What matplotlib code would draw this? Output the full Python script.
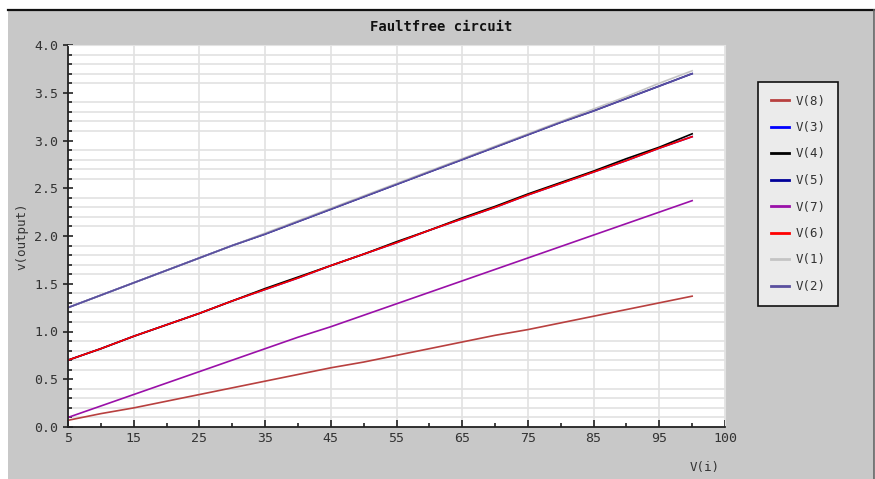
import matplotlib
matplotlib.use('Agg')
import matplotlib.pyplot as plt
from matplotlib.patches import Rectangle
from matplotlib.lines import Line2D

# input voltage sweep
v_in = [5, 10, 15, 20, 25, 30, 35, 40, 45, 50, 55, 60, 65, 70, 75, 80, 85, 90, 95, 100]

# node voltages
v8 = [0.07, 0.14, 0.20, 0.27, 0.34, 0.41, 0.48, 0.55, 0.62, 0.68,
      0.75, 0.82, 0.89, 0.96, 1.02, 1.09, 1.16, 1.23, 1.30, 1.37]
v3 = [0.70, 0.82, 0.95, 1.07, 1.19, 1.32, 1.44, 1.56, 1.69, 1.81,
      1.93, 2.06, 2.18, 2.30, 2.43, 2.55, 2.67, 2.79, 2.92, 3.04]
v4 = [0.70, 0.82, 0.95, 1.07, 1.19, 1.32, 1.45, 1.57, 1.69, 1.81,
      1.94, 2.06, 2.19, 2.31, 2.44, 2.56, 2.68, 2.81, 2.93, 3.07]
v5 = [1.25, 1.38, 1.51, 1.64, 1.77, 1.90, 2.02, 2.15, 2.28, 2.41,
      2.54, 2.67, 2.80, 2.93, 3.06, 3.19, 3.31, 3.44, 3.57, 3.70]
v7 = [0.10, 0.22, 0.34, 0.46, 0.58, 0.70, 0.82, 0.94, 1.05, 1.17,
      1.29, 1.41, 1.53, 1.65, 1.77, 1.89, 2.01, 2.13, 2.25, 2.37]
v6 = [0.70, 0.82, 0.95, 1.07, 1.19, 1.32, 1.44, 1.56, 1.69, 1.81,
      1.93, 2.06, 2.18, 2.30, 2.43, 2.55, 2.67, 2.79, 2.92, 3.04]
v1 = [1.25, 1.38, 1.51, 1.64, 1.77, 1.90, 2.03, 2.16, 2.29, 2.42,
      2.55, 2.68, 2.81, 2.94, 3.07, 3.20, 3.33, 3.46, 3.60, 3.73]
v2 = [1.25, 1.38, 1.51, 1.64, 1.77, 1.90, 2.02, 2.15, 2.28, 2.41,
      2.54, 2.67, 2.80, 2.93, 3.06, 3.19, 3.31, 3.44, 3.57, 3.70]

series = [('V(8)', v8, '#b8403f'), ('V(3)', v3, '#0000ff'), ('V(4)', v4, '#000000'),
          ('V(5)', v5, '#000099'), ('V(7)', v7, '#9a10a8'), ('V(6)', v6, '#ff0000'),
          ('V(1)', v1, '#c4c4c4'), ('V(2)', v2, '#5a4f9e')]

x_ticks = [5, 15, 25, 35, 45, 55, 65, 75, 85, 95, 105]
x_tick_labels = ['5', '15', '25', '35', '45', '55', '65', '75', '85', '95', '100']
y_ticks = [0.0, 0.5, 1.0, 1.5, 2.0, 2.5, 3.0, 3.5, 4.0]

mono = 'DejaVu Sans Mono'
text_col = '#333333'

fig = plt.figure(figsize=(8.75, 4.79), dpi=100)
fig.patch.set_facecolor('white')

# grey panel behind everything
fig.patches.append(Rectangle((8 / 875, 0), 866 / 875, 469 / 479, transform=fig.transFigure,
                             facecolor='#c8c8c8', edgecolor='none', zorder=-10))
fig.lines.append(Line2D([8 / 875, 1], [469 / 479, 469 / 479], transform=fig.transFigure,
                        color='#111111', linewidth=1.6))
fig.lines.append(Line2D([873.5 / 875, 873.5 / 875], [0, 469 / 479], transform=fig.transFigure,
                        color='#666666', linewidth=1.2))

ax = fig.add_axes([68 / 875, 52 / 479, 657 / 875, 382 / 479])
ax.set_facecolor('white')

for name, vals, col in series:
    ax.plot(v_in, vals, color=col, linewidth=1.2, label=name)

ax.set_xlim(5, 105)
ax.set_ylim(0, 4.0)
ax.set_xticks(x_ticks)
ax.set_xticklabels(x_tick_labels)
ax.set_xticks(list(range(10, 105, 10)), minor=True)
ax.set_yticks(y_ticks)
ax.set_yticklabels([f'{v:.1f}' for v in y_ticks])
ax.set_yticks([i / 10 for i in range(41)], minor=True)

ax.grid(True, which='major', axis='x', color='#e2e2e2', linewidth=1.2)
ax.grid(True, which='minor', axis='y', color='#e2e2e2', linewidth=1.2)
ax.set_axisbelow(True)

for side in ['top', 'right']:
    ax.spines[side].set_color('#e2e2e2')
for side in ['left', 'bottom']:
    ax.spines[side].set_color('#222222')
    ax.spines[side].set_linewidth(1.3)

ax.tick_params(which='major', direction='in', length=5, width=1.2, color='#222222',
               labelsize=9.5, labelcolor=text_col)
ax.tick_params(which='minor', direction='in', length=3, width=1.2, color='#222222')
ax.tick_params(axis='y', which='major', direction='inout', length=7)
for lbl in ax.get_xticklabels() + ax.get_yticklabels():
    lbl.set_family(mono)

ax.set_ylabel('v(output)', fontsize=9, family=mono, color=text_col, labelpad=4)
fig.text(705 / 875, 1 - 467 / 479, 'V(i)', fontsize=9, family=mono, color=text_col,
         ha='center', va='center')
fig.text(441 / 875, 1 - 27 / 479, 'Faultfree circuit', fontsize=10, family=mono,
         fontweight='bold', color='#111111', ha='center', va='center')

leg = ax.legend(loc='upper left', bbox_to_anchor=(758 / 875, 1 - 82 / 479),
                bbox_transform=fig.transFigure, borderaxespad=0, frameon=True,
                fancybox=False, prop={'family': mono, 'size': 9}, labelspacing=1.08,
                handlelength=1.5, handletextpad=0.5, borderpad=1.0)
leg.get_frame().set_facecolor('#ebebeb')
leg.get_frame().set_edgecolor('#111111')
leg.get_frame().set_linewidth(1.2)
leg.get_frame().set_alpha(1)
for t in leg.get_texts():
    t.set_color(text_col)
for h in leg.get_lines():
    h.set_linewidth(2)

plt.savefig('out.png', dpi=100)
plt.close()
